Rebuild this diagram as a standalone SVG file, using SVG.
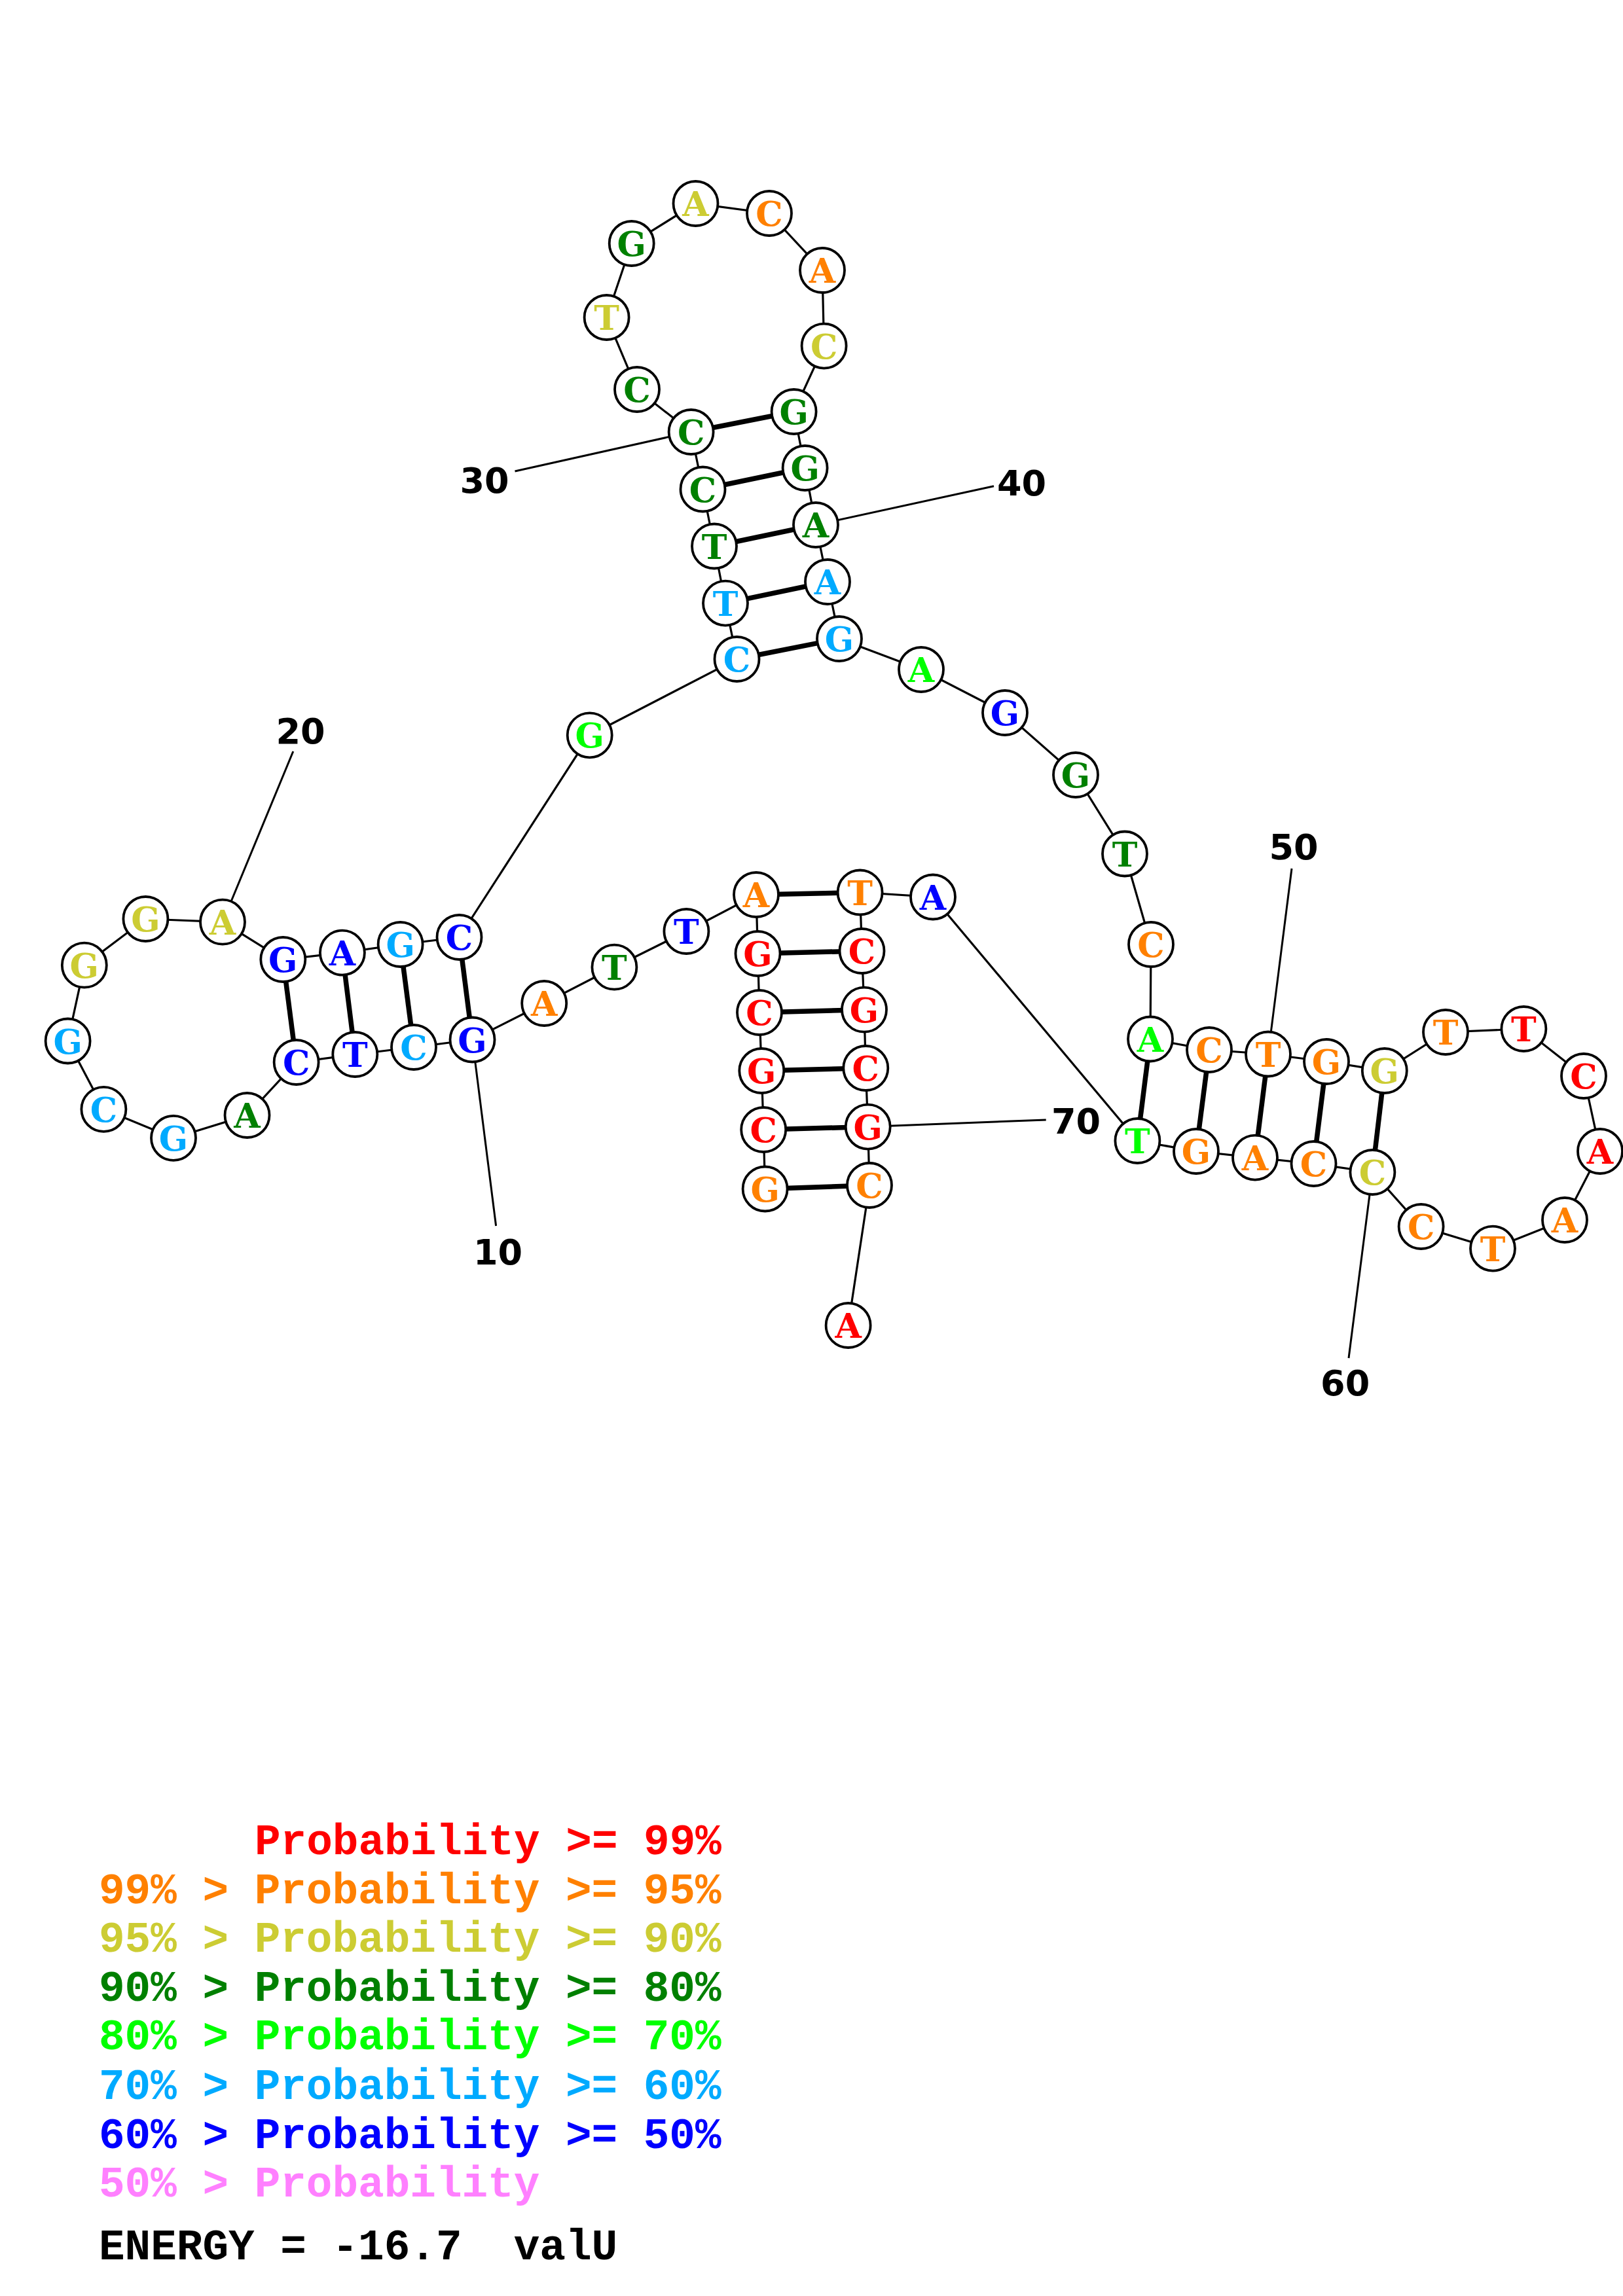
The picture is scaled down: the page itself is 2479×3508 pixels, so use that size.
<svg xmlns="http://www.w3.org/2000/svg" width="2479" height="3508" viewBox="0 0 2479 3508">
<style>
.bb{stroke:#000;stroke-width:3.2;fill:none}
.bp{stroke:#000;stroke-width:7.5;fill:none}
.ll{stroke:#000;stroke-width:3;fill:none}
circle{fill:#fff;stroke:#000;stroke-width:3.8}
.n text{font-family:"DejaVu Serif","Liberation Serif",serif;font-weight:bold;font-size:52px;text-anchor:middle}
.num{font-family:"DejaVu Sans","Liberation Sans",sans-serif;font-weight:bold;font-size:54px;text-anchor:middle;fill:#000}
.lg{font-family:"Liberation Mono","DejaVu Sans Mono",monospace;font-weight:bold;font-size:66px;white-space:pre}
.r{fill:#FF0000}.o{fill:#FF8000}.y{fill:#CCCC33}.d{fill:#008000}.g{fill:#00FF00}.l{fill:#00AAFF}.b{fill:#0000FF}.p{fill:#FF80FF}.k{fill:#000}
</style>
<rect width="2479" height="3508" fill="#fff"/>
<g id="connectors">
<polyline class="bb" points="1168.6,1816.5 1166.2,1726 1163.3,1636 1160,1547 1157.5,1457 1155,1367 1048.4,1423 938.4,1477.7 831.2,1533 721.5,1588.5 632,1600 542.3,1611 452.6,1623 377.5,1704 265,1738.8 158.4,1694.8 103.6,1590.5 128.8,1474.7 222.4,1404 340,1408.7 432.3,1466 522.9,1455.6 611.6,1443 701.5,1432 900.7,1123.3 1125.5,1007 1108,921.6 1091,834.5 1073.5,747.5 1055.6,660 973,595 926.6,485 964.7,372 1062.5,311 1175,326 1256,413 1258.6,528.6 1212.6,629 1229.6,715 1246,802 1264,889 1282,976 1407,1023 1535,1089 1643,1184 1718,1304.5 1758,1443 1757,1587.5 1847,1604 1937,1610.5 2026,1622 2114.8,1636 2208,1577 2327.4,1572 2419,1644 2444,1759 2390,1864 2280,1907.6 2170.6,1874 2096.4,1791 2006.5,1778 1917,1768.6 1827,1759 1737.4,1743 1425,1370.5 1313.6,1363.5 1316.5,1453 1320,1542.7 1322.3,1632 1325.7,1721.6 1328,1811 1295.6,2025"/>
<line class="bp" x1="1168.6" y1="1816.5" x2="1328" y2="1811"/>
<line class="bp" x1="1166.2" y1="1726" x2="1325.7" y2="1721.6"/>
<line class="bp" x1="1163.3" y1="1636" x2="1322.3" y2="1632"/>
<line class="bp" x1="1160" y1="1547" x2="1320" y2="1542.7"/>
<line class="bp" x1="1157.5" y1="1457" x2="1316.5" y2="1453"/>
<line class="bp" x1="1155" y1="1367" x2="1313.6" y2="1363.5"/>
<line class="bp" x1="721.5" y1="1588.5" x2="701.5" y2="1432"/>
<line class="bp" x1="632" y1="1600" x2="611.6" y2="1443"/>
<line class="bp" x1="542.3" y1="1611" x2="522.9" y2="1455.6"/>
<line class="bp" x1="452.6" y1="1623" x2="432.3" y2="1466"/>
<line class="bp" x1="1125.5" y1="1007" x2="1282" y2="976"/>
<line class="bp" x1="1108" y1="921.6" x2="1264" y2="889"/>
<line class="bp" x1="1091" y1="834.5" x2="1246" y2="802"/>
<line class="bp" x1="1073.5" y1="747.5" x2="1229.6" y2="715"/>
<line class="bp" x1="1055.6" y1="660" x2="1212.6" y2="629"/>
<line class="bp" x1="1757" y1="1587.5" x2="1737.4" y2="1743"/>
<line class="bp" x1="1847" y1="1604" x2="1827" y2="1759"/>
<line class="bp" x1="1937" y1="1610.5" x2="1917" y2="1768.6"/>
<line class="bp" x1="2026" y1="1622" x2="2006.5" y2="1778"/>
<line class="bp" x1="2114.8" y1="1636" x2="2096.4" y2="1791"/>
<line class="ll" x1="721.5" y1="1588.5" x2="757.6" y2="1873"/>
<line class="ll" x1="340" y1="1408.7" x2="447.8" y2="1148"/>
<line class="ll" x1="1055.6" y1="660" x2="786.5" y2="720"/>
<line class="ll" x1="1246" y1="802" x2="1518" y2="742.7"/>
<line class="ll" x1="1937" y1="1610.5" x2="1973" y2="1327"/>
<line class="ll" x1="2096.4" y1="1791" x2="2060" y2="2075"/>
<line class="ll" x1="1325.7" y1="1721.6" x2="1597.7" y2="1711"/>
</g>
<g class="n">
<g id="n1"><circle cx="1168.6" cy="1816.5" r="34"/><text class="o" x="1168.6" y="1835.5">G</text></g>
<g id="n2"><circle cx="1166.2" cy="1726" r="34"/><text class="r" x="1166.2" y="1745">C</text></g>
<g id="n3"><circle cx="1163.3" cy="1636" r="34"/><text class="r" x="1163.3" y="1655">G</text></g>
<g id="n4"><circle cx="1160" cy="1547" r="34"/><text class="r" x="1160" y="1566">C</text></g>
<g id="n5"><circle cx="1157.5" cy="1457" r="34"/><text class="r" x="1157.5" y="1476">G</text></g>
<g id="n6"><circle cx="1155" cy="1367" r="34"/><text class="o" x="1155" y="1386">A</text></g>
<g id="n7"><circle cx="1048.4" cy="1423" r="34"/><text class="b" x="1048.4" y="1442">T</text></g>
<g id="n8"><circle cx="938.4" cy="1477.7" r="34"/><text class="d" x="938.4" y="1496.7">T</text></g>
<g id="n9"><circle cx="831.2" cy="1533" r="34"/><text class="o" x="831.2" y="1552">A</text></g>
<g id="n10"><circle cx="721.5" cy="1588.5" r="34"/><text class="b" x="721.5" y="1607.5">G</text></g>
<g id="n11"><circle cx="632" cy="1600" r="34"/><text class="l" x="632" y="1619">C</text></g>
<g id="n12"><circle cx="542.3" cy="1611" r="34"/><text class="b" x="542.3" y="1630">T</text></g>
<g id="n13"><circle cx="452.6" cy="1623" r="34"/><text class="b" x="452.6" y="1642">C</text></g>
<g id="n14"><circle cx="377.5" cy="1704" r="34"/><text class="d" x="377.5" y="1723">A</text></g>
<g id="n15"><circle cx="265" cy="1738.8" r="34"/><text class="l" x="265" y="1757.8">G</text></g>
<g id="n16"><circle cx="158.4" cy="1694.8" r="34"/><text class="l" x="158.4" y="1713.8">C</text></g>
<g id="n17"><circle cx="103.6" cy="1590.5" r="34"/><text class="l" x="103.6" y="1609.5">G</text></g>
<g id="n18"><circle cx="128.8" cy="1474.7" r="34"/><text class="y" x="128.8" y="1493.7">G</text></g>
<g id="n19"><circle cx="222.4" cy="1404" r="34"/><text class="y" x="222.4" y="1423">G</text></g>
<g id="n20"><circle cx="340" cy="1408.7" r="34"/><text class="y" x="340" y="1427.7">A</text></g>
<g id="n21"><circle cx="432.3" cy="1466" r="34"/><text class="b" x="432.3" y="1485">G</text></g>
<g id="n22"><circle cx="522.9" cy="1455.6" r="34"/><text class="b" x="522.9" y="1474.6">A</text></g>
<g id="n23"><circle cx="611.6" cy="1443" r="34"/><text class="l" x="611.6" y="1462">G</text></g>
<g id="n24"><circle cx="701.5" cy="1432" r="34"/><text class="b" x="701.5" y="1451">C</text></g>
<g id="n25"><circle cx="900.7" cy="1123.3" r="34"/><text class="g" x="900.7" y="1142.3">G</text></g>
<g id="n26"><circle cx="1125.5" cy="1007" r="34"/><text class="l" x="1125.5" y="1026">C</text></g>
<g id="n27"><circle cx="1108" cy="921.6" r="34"/><text class="l" x="1108" y="940.6">T</text></g>
<g id="n28"><circle cx="1091" cy="834.5" r="34"/><text class="d" x="1091" y="853.5">T</text></g>
<g id="n29"><circle cx="1073.5" cy="747.5" r="34"/><text class="d" x="1073.5" y="766.5">C</text></g>
<g id="n30"><circle cx="1055.6" cy="660" r="34"/><text class="d" x="1055.6" y="679">C</text></g>
<g id="n31"><circle cx="973" cy="595" r="34"/><text class="d" x="973" y="614">C</text></g>
<g id="n32"><circle cx="926.6" cy="485" r="34"/><text class="y" x="926.6" y="504">T</text></g>
<g id="n33"><circle cx="964.7" cy="372" r="34"/><text class="d" x="964.7" y="391">G</text></g>
<g id="n34"><circle cx="1062.5" cy="311" r="34"/><text class="y" x="1062.5" y="330">A</text></g>
<g id="n35"><circle cx="1175" cy="326" r="34"/><text class="o" x="1175" y="345">C</text></g>
<g id="n36"><circle cx="1256" cy="413" r="34"/><text class="o" x="1256" y="432">A</text></g>
<g id="n37"><circle cx="1258.6" cy="528.6" r="34"/><text class="y" x="1258.6" y="547.6">C</text></g>
<g id="n38"><circle cx="1212.6" cy="629" r="34"/><text class="d" x="1212.6" y="648">G</text></g>
<g id="n39"><circle cx="1229.6" cy="715" r="34"/><text class="d" x="1229.6" y="734">G</text></g>
<g id="n40"><circle cx="1246" cy="802" r="34"/><text class="d" x="1246" y="821">A</text></g>
<g id="n41"><circle cx="1264" cy="889" r="34"/><text class="l" x="1264" y="908">A</text></g>
<g id="n42"><circle cx="1282" cy="976" r="34"/><text class="l" x="1282" y="995">G</text></g>
<g id="n43"><circle cx="1407" cy="1023" r="34"/><text class="g" x="1407" y="1042">A</text></g>
<g id="n44"><circle cx="1535" cy="1089" r="34"/><text class="b" x="1535" y="1108">G</text></g>
<g id="n45"><circle cx="1643" cy="1184" r="34"/><text class="d" x="1643" y="1203">G</text></g>
<g id="n46"><circle cx="1718" cy="1304.5" r="34"/><text class="d" x="1718" y="1323.5">T</text></g>
<g id="n47"><circle cx="1758" cy="1443" r="34"/><text class="o" x="1758" y="1462">C</text></g>
<g id="n48"><circle cx="1757" cy="1587.5" r="34"/><text class="g" x="1757" y="1606.5">A</text></g>
<g id="n49"><circle cx="1847" cy="1604" r="34"/><text class="o" x="1847" y="1623">C</text></g>
<g id="n50"><circle cx="1937" cy="1610.5" r="34"/><text class="o" x="1937" y="1629.5">T</text></g>
<g id="n51"><circle cx="2026" cy="1622" r="34"/><text class="o" x="2026" y="1641">G</text></g>
<g id="n52"><circle cx="2114.8" cy="1636" r="34"/><text class="y" x="2114.8" y="1655">G</text></g>
<g id="n53"><circle cx="2208" cy="1577" r="34"/><text class="o" x="2208" y="1596">T</text></g>
<g id="n54"><circle cx="2327.4" cy="1572" r="34"/><text class="r" x="2327.4" y="1591">T</text></g>
<g id="n55"><circle cx="2419" cy="1644" r="34"/><text class="r" x="2419" y="1663">C</text></g>
<g id="n56"><circle cx="2444" cy="1759" r="34"/><text class="r" x="2444" y="1778">A</text></g>
<g id="n57"><circle cx="2390" cy="1864" r="34"/><text class="o" x="2390" y="1883">A</text></g>
<g id="n58"><circle cx="2280" cy="1907.6" r="34"/><text class="o" x="2280" y="1926.6">T</text></g>
<g id="n59"><circle cx="2170.6" cy="1874" r="34"/><text class="o" x="2170.6" y="1893">C</text></g>
<g id="n60"><circle cx="2096.4" cy="1791" r="34"/><text class="y" x="2096.4" y="1810">C</text></g>
<g id="n61"><circle cx="2006.5" cy="1778" r="34"/><text class="o" x="2006.5" y="1797">C</text></g>
<g id="n62"><circle cx="1917" cy="1768.6" r="34"/><text class="o" x="1917" y="1787.6">A</text></g>
<g id="n63"><circle cx="1827" cy="1759" r="34"/><text class="o" x="1827" y="1778">G</text></g>
<g id="n64"><circle cx="1737.4" cy="1743" r="34"/><text class="g" x="1737.4" y="1762">T</text></g>
<g id="n65"><circle cx="1425" cy="1370.5" r="34"/><text class="b" x="1425" y="1389.5">A</text></g>
<g id="n66"><circle cx="1313.6" cy="1363.5" r="34"/><text class="o" x="1313.6" y="1382.5">T</text></g>
<g id="n67"><circle cx="1316.5" cy="1453" r="34"/><text class="r" x="1316.5" y="1472">C</text></g>
<g id="n68"><circle cx="1320" cy="1542.7" r="34"/><text class="r" x="1320" y="1561.7">G</text></g>
<g id="n69"><circle cx="1322.3" cy="1632" r="34"/><text class="r" x="1322.3" y="1651">C</text></g>
<g id="n70"><circle cx="1325.7" cy="1721.6" r="34"/><text class="r" x="1325.7" y="1740.6">G</text></g>
<g id="n71"><circle cx="1328" cy="1811" r="34"/><text class="o" x="1328" y="1830">C</text></g>
<g id="n72"><circle cx="1295.6" cy="2025" r="34"/><text class="r" x="1295.6" y="2044">A</text></g>
</g>
<g id="labels">
<text class="num" x="760.5" y="1932">10</text>
<text class="num" x="459" y="1136">20</text>
<text class="num" x="740" y="752.5">30</text>
<text class="num" x="1560.5" y="757">40</text>
<text class="num" x="1976" y="1312.6">50</text>
<text class="num" x="2054.7" y="2132">60</text>
<text class="num" x="1643.6" y="1731.6">70</text>
</g>
<g id="legend">
<text class="lg r" x="389" y="2833">Probability &gt;= 99%</text>
<text class="lg o" x="151" y="2908">99% &gt; Probability &gt;= 95%</text>
<text class="lg y" x="151" y="2982">95% &gt; Probability &gt;= 90%</text>
<text class="lg d" x="151" y="3057">90% &gt; Probability &gt;= 80%</text>
<text class="lg g" x="151" y="3131">80% &gt; Probability &gt;= 70%</text>
<text class="lg l" x="151" y="3207">70% &gt; Probability &gt;= 60%</text>
<text class="lg b" x="151" y="3282">60% &gt; Probability &gt;= 50%</text>
<text class="lg p" x="151" y="3356">50% &gt; Probability</text>
<text class="lg k" x="151" y="3452">ENERGY = -16.7  valU</text>
</g>
</svg>
